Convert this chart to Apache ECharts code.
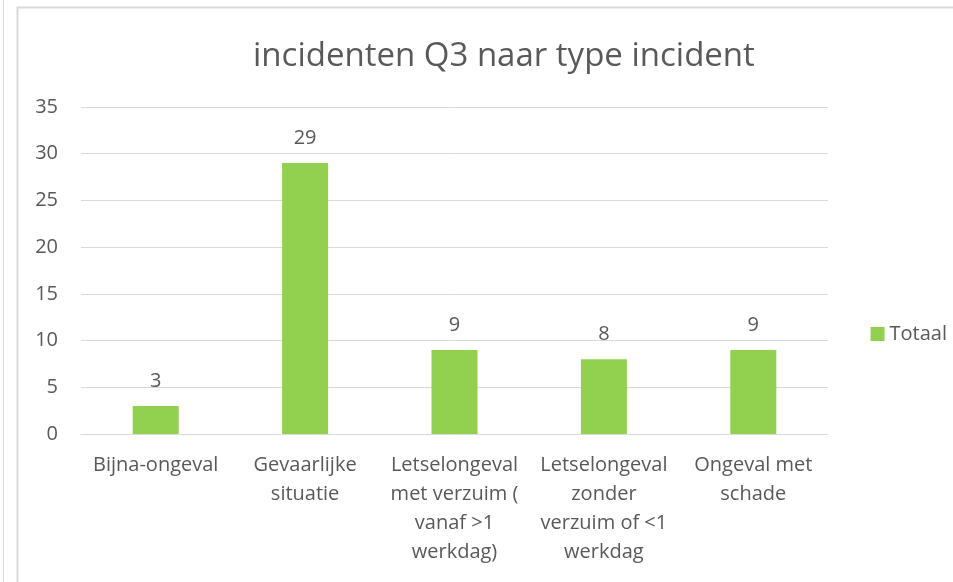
<!DOCTYPE html>
<html>
<head>
<meta charset="utf-8">
<script src="https://cdn.jsdelivr.net/npm/echarts@6/dist/echarts.min.js"></script>
<style>
  html, body { margin: 0; padding: 0; background: #fff; }
  #chart { width: 953px; height: 582px; }
</style>
</head>
<body>
<div id="chart"></div>
<script>
    var categories = ['Bijna-ongeval', 'Gevaarlijke\nsituatie', 'Letselongeval\nmet verzuim (\nvanaf >1\nwerkdag)', 'Letselongeval\nzonder\nverzuim of <1\nwerkdag', 'Ongeval met\nschade'];
    var totaal = [3, 29, 9, 8, 9];
    var yTicks = [0, 5, 10, 15, 20, 25, 30, 35];

    var textColor = '#595959';
    var font = 'Open Sans';

    var myChart = echarts.init(document.getElementById('chart'));
    var option = {
        animation: false,
        textStyle: { fontFamily: font },
        title: {
            text: 'incidenten Q3 naar type incident',
            left: 248,
            top: 35,
            textStyle: { color: textColor, fontSize: 33, fontWeight: 'normal', fontFamily: font }
        },
        // chart frame lines
        graphic: [
            { type: 'line', shape: { x1: 3.5, y1: 0, x2: 3.5, y2: 582 }, style: { stroke: '#d9d9d9', lineWidth: 1 } },
            { type: 'polyline', shape: { points: [[17.5, 582], [17.5, 7.5], [953, 7.5]] }, style: { stroke: '#d9d9d9', lineWidth: 2, fill: null } }
        ],
        legend: {
            data: ['Totaal'],
            right: 1,
            top: 319,
            itemWidth: 14,
            itemHeight: 14,
            itemGap: 6,
            icon: 'rect',
            textStyle: { color: textColor, fontSize: 20, fontFamily: font }
        },
        grid: { left: 81, right: 125, top: 107, bottom: 148, containLabel: false },
        xAxis: {
            type: 'category',
            data: categories,
            axisLine: { lineStyle: { color: '#d9d9d9', width: 1 } },
            axisTick: { show: false },
            axisLabel: { interval: 0, color: textColor, fontSize: 20, lineHeight: 29, margin: 17, fontFamily: font }
        },
        yAxis: {
            type: 'value',
            min: yTicks[0],
            max: yTicks[yTicks.length - 1],
            interval: 5,
            axisLine: { show: false },
            axisTick: { show: false },
            splitLine: { lineStyle: { color: '#d9d9d9', width: 1 } },
            axisLabel: { color: textColor, fontSize: 20, margin: 23, fontFamily: font }
        },
        series: [{
            name: 'Totaal',
            type: 'bar',
            data: totaal,
            barWidth: 46,
            itemStyle: { color: '#92d050' },
            label: { show: true, position: 'top', distance: 15, color: textColor, fontSize: 20, fontFamily: font }
        }]
    };
    myChart.setOption(option);
</script>
</body>
</html>
